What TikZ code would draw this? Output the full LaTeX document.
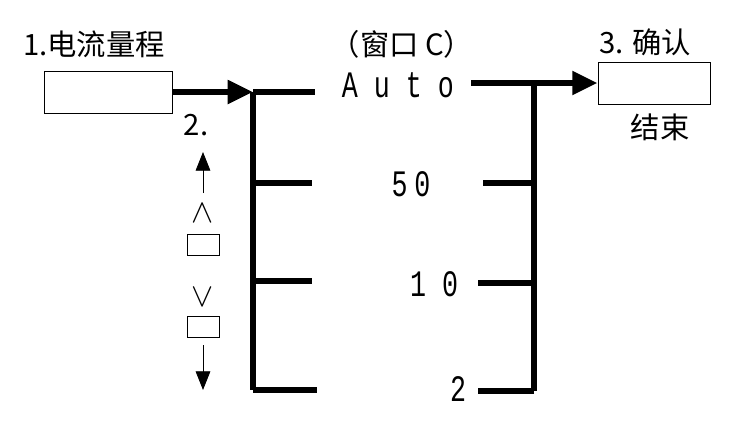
\documentclass[tikz,border=0pt]{standalone}
\usepackage{fontspec}
\setmainfont{Noto Sans CJK SC}
\newfontfamily\lcdfont{Liberation Mono}
\usepackage{tikz}
\usetikzlibrary{arrows.meta}
\usetikzlibrary{positioning}
\tikzstyle{box}  = [draw,rectangle,semithick,inner sep=0pt,minimum width=96pt, minimum height=31.5pt]
\tikzstyle{keybox}  = [draw,rectangle,semithick,inner sep=0pt,minimum width=24pt, minimum height=15.75pt]
\tikzstyle{label}  = [inner sep=0pt,font=\fontsize{22}{22}\selectfont]
\tikzstyle{lcd}  = [inner sep=0pt,font=\lcdfont\fontsize{20}{20}\selectfont]
\tikzstyle{bus}  = [line width=4.5pt]
\tikzstyle{key}  = [semithick,->,>={Triangle[length=14pt,width=11pt]}]
\newcommand\lcdtext[1]{\scalebox{1}[1.4]{#1}}

\begin{document}
\begin{tikzpicture}[x=0.75pt,y=-0.75pt,>={Triangle[length=19pt,width=17pt]}]
\useasboundingbox (0,0) rectangle (732,425);

\node[label] (T1) at (94,44) {1.电流量程};
\node[box] (B1) at (108,92) {};
\node[label] (T2) at (402,44) {（窗口 C）};
\node[label] (T3) at (645,42) {3. 确认};
\node[box, minimum width=84pt] (B2) at (654,83) {};
\node[label] (T4) at (660,127) {结束};

\node[lcd] (V1) at (398,85) {\lcdtext{A u t o}};
\node[lcd] (V2) at (411,184) {\lcdtext{5\kern5pt 0}};
\node[lcd] (V3) at (434,284) {\lcdtext{1 0}};
\node[lcd] (V4) at (458,389) {\lcdtext{2}};

\coordinate (L0) at (253,92);
\coordinate (L1) at (253,183);
\coordinate (L2) at (253,281);
\coordinate (L3) at (253,390);
\coordinate (R0) at (534,83);
\coordinate (R1) at (534,183);
\coordinate (R2) at (534,283);
\coordinate (R3) at (534,391);

\draw[bus,->] (B1) -- (L0);
\draw[bus] (L0) -- ++(62,0);
\draw[bus] (L0) -- (L3);
\draw[bus] (L1) -- ++(59,0);
\draw[bus] (L2) -- ++(59,0);
\draw[bus] (L3) -- ++(64,0);

\draw[bus,->] (471,83) -- (B2);
\draw[bus] (R0) -- (R3);
\draw[bus] (R1) -- ++(-51,0);
\draw[bus] (R2) -- ++(-56,0);
\draw[bus] (R3) -- ++(-56,0);

% keys
\node[label] (K0) at (196,125) {2.};
\coordinate (U0) at (203,193);
\coordinate (U1) at (203,152);
\draw[key] (U0) -- (U1);
\node[inner sep=0pt] (K1) at (203,213) {\Huge$\wedge$};
\node[keybox] (S1) at (203,245) {};
\node[inner sep=0pt] (K2) at (203,297) {\Huge$\vee$};
\node[keybox] (S2) at (203,327) {};
\coordinate (D0) at (203,345);
\coordinate (D1) at (203,390);
\draw[key] (D0) -- (D1);

\end{tikzpicture}
\end{document}
